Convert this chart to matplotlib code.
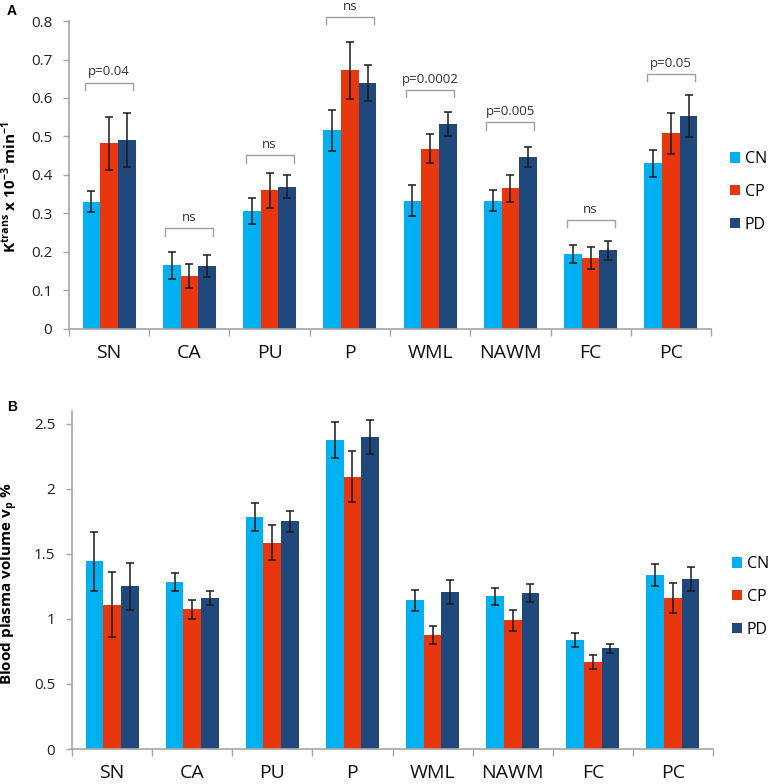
import matplotlib
matplotlib.use("Agg")
import matplotlib.pyplot as plt
import numpy as np

plt.rcParams['font.family'] = ['Open Sans', 'DejaVu Sans']
plt.rcParams['mathtext.fontset'] = 'custom'
plt.rcParams['mathtext.rm'] = 'Open Sans'
plt.rcParams['mathtext.bf'] = 'Open Sans:bold'

regions = ['SN', 'CA', 'PU', 'P', 'WML', 'NAWM', 'FC', 'PC']
groups = ['CN', 'CP', 'PD']
colors = ['#00B0F0', '#E8360E', '#1F497D']

# Panel A: Ktrans
ktrans_cn = [0.331, 0.165, 0.306, 0.516, 0.333, 0.333, 0.195, 0.430]
ktrans_cp = [0.482, 0.138, 0.360, 0.672, 0.468, 0.365, 0.185, 0.508]
ktrans_pd = [0.490, 0.163, 0.370, 0.640, 0.532, 0.447, 0.204, 0.553]
ktrans_cn_err = [0.028, 0.036, 0.033, 0.053, 0.040, 0.027, 0.023, 0.035]
ktrans_cp_err = [0.068, 0.031, 0.045, 0.074, 0.038, 0.034, 0.028, 0.054]
ktrans_pd_err = [0.070, 0.029, 0.030, 0.047, 0.031, 0.027, 0.024, 0.055]
sig_labels = ['p=0.04', 'ns', 'ns', 'ns', 'p=0.0002', 'p=0.005', 'ns', 'p=0.05']
sig_heights = [0.640, 0.261, 0.451, 0.810, 0.621, 0.537, 0.283, 0.662]

# Panel B: vp
vp_cn = [1.443, 1.287, 1.786, 2.375, 1.144, 1.175, 0.837, 1.341]
vp_cp = [1.111, 1.075, 1.586, 2.093, 0.880, 0.990, 0.670, 1.162]
vp_pd = [1.251, 1.162, 1.750, 2.400, 1.208, 1.203, 0.773, 1.305]
vp_cn_err = [0.224, 0.070, 0.109, 0.140, 0.082, 0.064, 0.056, 0.084]
vp_cp_err = [0.250, 0.073, 0.135, 0.196, 0.069, 0.082, 0.051, 0.116]
vp_pd_err = [0.183, 0.054, 0.082, 0.134, 0.092, 0.069, 0.032, 0.091]

fig = plt.figure(figsize=(7.7, 7.84), dpi=100)
axA = fig.add_axes([69/770, 0.5804, 642/770, 0.3928])
axB = fig.add_axes([72/770, 0.04464, 641/770, 0.4312])

x = np.arange(len(regions))
width = 0.22


def draw_panel(ax, series, errs, ymax, ytick_max, ystep, ylabel, legend_y):
    for i, (vals, err) in enumerate(zip(series, errs)):
        ax.bar(x + (i - 1) * width, vals, width, color=colors[i], label=groups[i],
               yerr=err, error_kw=dict(ecolor='#1a1a1a', elinewidth=1.1, capsize=3.2, capthick=1.1),
               zorder=2)
    ax.set_xlim(-0.5, len(regions) - 0.5)
    ax.set_ylim(0, ymax)
    ticks = np.arange(0, ytick_max + 1e-9, ystep)
    ax.set_yticks(ticks)
    ax.set_yticklabels([f'{t:g}' for t in ticks])
    ax.set_xticks(x)
    ax.set_xticklabels(regions, fontsize=14, color='#111111')
    ax.set_xticks(np.arange(-0.5, len(regions)), minor=True)
    ax.tick_params(axis='x', which='major', length=0, pad=11)
    ax.tick_params(axis='x', which='minor', length=5, color='#A6A6A6', width=1)
    ax.tick_params(axis='y', length=4, color='#A6A6A6', width=1, pad=8, labelsize=11,
                   labelcolor='#222222')
    for s in ['top', 'right']:
        ax.spines[s].set_visible(False)
    for s in ['left', 'bottom']:
        ax.spines[s].set_color('#A6A6A6')
        ax.spines[s].set_linewidth(1.2)
    ax.set_ylabel(ylabel, fontsize=11, fontweight='bold')
    ax.legend(loc='center left', bbox_to_anchor=(1.03, legend_y), frameon=False,
              fontsize=11.5, handlelength=0.6, handleheight=0.6, handletextpad=0.3,
              labelspacing=1.05, borderaxespad=0, borderpad=0)


draw_panel(axA, [ktrans_cn, ktrans_cp, ktrans_pd],
           [ktrans_cn_err, ktrans_cp_err, ktrans_pd_err],
           0.8, 0.8, 0.1, r'K$^{\mathbf{trans}}$ x 10$^{\mathbf{-3}}$ min$^{\mathbf{-1}}$', 0.445)
axA.yaxis.set_label_coords(-0.078, 0.46)

draw_panel(axB, [vp_cn, vp_cp, vp_pd], [vp_cn_err, vp_cp_err, vp_pd_err],
           2.6, 2.5, 0.5, r'Blood plasma volume v$_{\mathbf{p}}$ %', 0.45)
axB.yaxis.set_label_coords(-0.081, 0.49)

# significance brackets
for xi, h, lab in zip(x, sig_heights, sig_labels):
    xs = [xi - 0.30, xi - 0.30, xi + 0.30, xi + 0.30]
    ys = [h - 0.019, h, h, h - 0.019]
    axA.plot(xs, ys, color='#A0A0A0', lw=1, clip_on=False, zorder=3)
    axA.text(xi, h + 0.011, lab, ha='center', va='bottom', fontsize=9.5,
             color='#333333', clip_on=False)

fig.text(12/770, 1 - 11/784, 'A', fontsize=10, fontweight='bold', family='Liberation Sans',
         ha='center', va='center')
fig.text(12/770, 1 - 407/784, 'B', fontsize=10, fontweight='bold', family='Liberation Sans',
         ha='center', va='center')

fig.savefig('out.png', dpi=100)
